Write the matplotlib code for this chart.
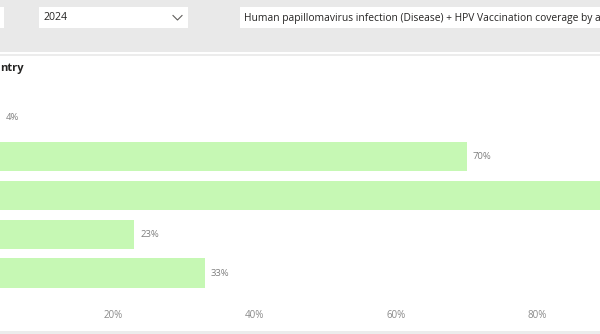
import matplotlib.pyplot as plt
from matplotlib.patches import Rectangle
from matplotlib.lines import Line2D

# data (row labels are cut off in the reference)
rows = ["Row 1", "Row 2", "Row 3", "Row 4", "Row 5"]
coverage = [4, 70, 100, 23, 33]
ticks = [20, 40, 60, 80]
year = "2024"
measure = "Human papillomavirus infection (Disease) + HPV Vaccination coverage by age"
title_tail = "ntry"

W, H = 600, 334
plt.rcParams['font.family'] = ['Open Sans', 'DejaVu Sans']
fig = plt.figure(figsize=(W / 100, H / 100), dpi=100)
fig.patch.set_facecolor("white")


def fx(px):
    return px / W


def fy(py):
    return 1 - py / H


def rect(x0, y0, x1, y1, color):
    r = Rectangle((fx(x0), fy(y1)), fx(x1 - x0), (y1 - y0) / H,
                  transform=fig.transFigure, facecolor=color, edgecolor="none")
    fig.add_artist(r)
    return r


# header band with slicers
rect(0, 0, W, 52, "#e9e9e9")
rect(0, 54, W, 56, "#ececec")
rect(0, 331, W, H, "#ececec")
rect(-10, 7, 4, 28, "white")
rect(39, 7, 188, 28, "white")
box3 = rect(240, 7, W, 28, "white")

fig.text(fx(43), fy(18), year, fontsize=7.6, color="#252423", va="center")
t = fig.text(fx(244), fy(18), measure, fontsize=7.35, color="#252423", va="center")
t.set_clip_path(box3)
fig.add_artist(Line2D([fx(173), fx(177.5), fx(182)], [fy(15.5), fy(20), fy(15.5)],
                      transform=fig.transFigure, color="#605e5c", lw=0.8))

fig.text(fx(0), fy(68), title_tail, fontsize=8, fontweight="bold",
         color="#252423", va="center")

# bar chart, 0% sits left of the visible area
left_px, px_per_pct = -28.5, 7.075
top_px, bot_px = 80, 302
ax = fig.add_axes([fx(left_px), fy(bot_px), fx(100 * px_per_pct), (bot_px - top_px) / H])
ax.set_xlim(0, 100)
step = 38.75
ax.set_ylim(4 + (bot_px - 273) / step, -(118 - top_px) / step)
visible_max = (W - left_px) / px_per_pct - 3

ypos = list(range(len(rows)))
ax.barh(ypos, coverage, height=0.76, color="#c6f8b4")
for y, v in zip(ypos, coverage):
    if v < visible_max:
        ax.text(v + 0.85, y, f"{v}%", fontsize=6.8, color="#7f7f7f", va="center", ha="left")

ax.set_xticks(ticks)
ax.set_xticklabels([f"{v}%" for v in ticks], fontsize=7, color="#8a8a8a")
ax.tick_params(axis="x", length=0, pad=6)
ax.set_yticks([])
for s in ax.spines.values():
    s.set_visible(False)
ax.set_facecolor("none")

fig.savefig("out.png", dpi=100)
